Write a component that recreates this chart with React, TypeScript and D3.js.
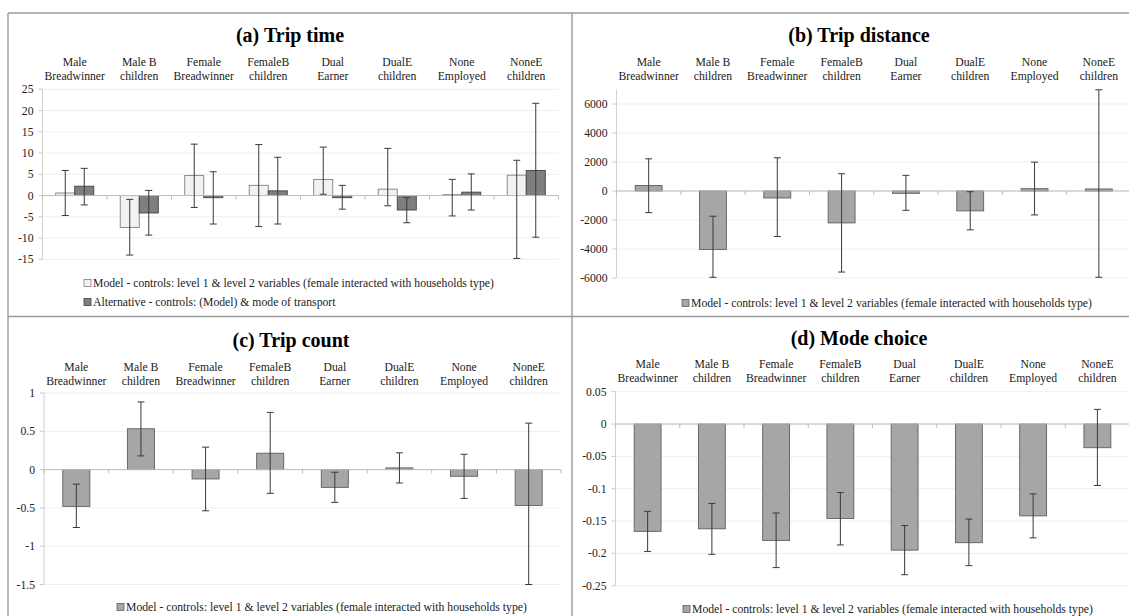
import React from "react";
import * as d3 from "d3";

const categories = [
  ["Male", "Breadwinner"],
  ["Male B", "children"],
  ["Female", "Breadwinner"],
  ["FemaleB", "children"],
  ["Dual", "Earner"],
  ["DualE", "children"],
  ["None", "Employed"],
  ["NoneE", "children"],
];

const legendModel = "Model - controls: level 1 & level 2 variables (female interacted with households type)";
const legendAlt = "Alternative - controls: (Model) & mode of transport";

// (a) Trip time
const timeModel = [0.6, -7.5, 4.7, 2.4, 3.8, 1.5, 0.2, 4.8];
const timeModelHi = [5.9, -0.9, 12.1, 12.0, 11.4, 11.1, 3.8, 8.3];
const timeModelLo = [-4.7, -14.0, -2.8, -7.3, 0.3, -2.4, -4.8, -14.8];
const timeAlt = [2.2, -4.1, -0.5, 1.1, -0.5, -3.4, 0.8, 5.9];
const timeAltHi = [6.4, 1.2, 5.6, 9.0, 2.4, -0.5, 5.1, 21.7];
const timeAltLo = [-2.2, -9.3, -6.7, -6.7, -3.2, -6.4, -3.4, -9.8];
const timeTicks = [25, 20, 15, 10, 5, 0, -5, -10, -15];

// (b) Trip distance
const distModel = [380, -4030, -480, -2200, -160, -1370, 160, 140];
const distModelHi = [2220, -1740, 2290, 1190, 1080, -50, 1990, 6980];
const distModelLo = [-1490, -5950, -3140, -5590, -1330, -2680, -1650, -5950];
const distTicks = [6000, 4000, 2000, 0, -2000, -4000, -6000];

// (c) Trip count
const countModel = [-0.48, 0.533, -0.122, 0.214, -0.232, 0.022, -0.087, -0.468];
const countModelHi = [-0.19, 0.883, 0.293, 0.747, -0.035, 0.219, 0.2, 0.607];
const countModelLo = [-0.756, 0.179, -0.538, -0.31, -0.428, -0.175, -0.376, -1.5];
const countTicks = [1, 0.5, 0, -0.5, -1, -1.5];

// (d) Mode choice
const modeModel = [-0.166, -0.162, -0.18, -0.146, -0.195, -0.1835, -0.142, -0.0366];
const modeModelHi = [-0.135, -0.123, -0.1376, -0.106, -0.157, -0.147, -0.108, 0.0227];
const modeModelLo = [-0.197, -0.2015, -0.222, -0.187, -0.233, -0.219, -0.176, -0.095];
const modeTicks = [0.05, 0, -0.05, -0.1, -0.15, -0.2, -0.25];

const FONT = "'Liberation Serif', 'Times New Roman', Times, serif";
const FS = 11.7;

type Series = { name: string; values: number[]; hi: number[]; lo: number[]; fill: string; stroke: string };

type PanelProps = {
  title: string;
  titleX: number;
  titleY: number;
  x0: number;
  x1: number;
  yTop: number;
  yBot: number;
  domain: [number, number];
  ticks: number[];
  catY: number;
  series: Series[];
  legendX: number;
  legendY: number[];
};

function Panel(p: PanelProps) {
  const x = d3.scaleBand<number>().domain(d3.range(categories.length)).range([p.x0, p.x1]).padding(0);
  const y = d3.scaleLinear().domain(p.domain).range([p.yBot, p.yTop]);
  const bw = x.bandwidth();
  const n = p.series.length;
  const barW = bw / (n + 1.39);
  const groupW = barW * n;
  const y0 = y(0);
  return (
    <g>
      <text x={p.titleX} y={p.titleY + 6.5} textAnchor="middle" fontFamily={FONT} fontWeight="bold" fontSize={20} fill="#000">
        {p.title}
      </text>
      {categories.map((c, i) => (
        <text key={"c" + i} x={(x(i) as number) + bw / 2} textAnchor="middle" fontFamily={FONT} fontSize={FS} fill="#222">
          <tspan x={(x(i) as number) + bw / 2} y={p.catY + 4}>{c[0]}</tspan>
          <tspan x={(x(i) as number) + bw / 2} y={p.catY + 18}>{c[1]}</tspan>
        </text>
      ))}
      {p.ticks.map((t, i) => (
        <g key={"t" + i}>
          <line x1={p.x0} x2={p.x1} y1={y(t)} y2={y(t)} stroke="#eeeeee" strokeWidth={1} />
          <line x1={p.x0 - 4} x2={p.x0} y1={y(t)} y2={y(t)} stroke="#c8c8c8" strokeWidth={1} />
          <text x={p.x0 - 9} y={y(t) + 4} textAnchor="end" fontFamily={FONT} fontSize={FS} fill="#222">
            {String(t)}
          </text>
        </g>
      ))}
      <line x1={p.x0} x2={p.x0} y1={p.yTop} y2={p.yBot} stroke="#d0d0d0" strokeWidth={1} />
      {p.series.map((s, si) =>
        s.values.map((v, i) => {
          const bx = (x(i) as number) + (bw - groupW) / 2 + si * barW;
          const top = Math.min(y(v), y0);
          const h = Math.abs(y(v) - y0);
          return (
            <rect key={"b" + si + "-" + i} x={bx} y={top} width={barW} height={Math.max(h, 0.8)} fill={s.fill} stroke={s.stroke} strokeWidth={0.9} />
          );
        })
      )}
      <line x1={p.x0} x2={p.x1} y1={y0} y2={y0} stroke="#bdbdbd" strokeWidth={1} />
      {d3.range(categories.length + 1).map((i) => {
        const xx = p.x0 + i * bw;
        return <line key={"ct" + i} x1={xx} x2={xx} y1={y0} y2={y0 + 4} stroke="#bdbdbd" strokeWidth={1} />;
      })}
      {p.series.map((s, si) =>
        s.values.map((v, i) => {
          const cx = (x(i) as number) + (bw - groupW) / 2 + si * barW + barW / 2;
          const yh = y(s.hi[i]);
          const yl = y(s.lo[i]);
          return (
            <g key={"e" + si + "-" + i} stroke="#3a3a3a" strokeWidth={1}>
              <line x1={cx} x2={cx} y1={yh} y2={yl} />
              <line x1={cx - 3.5} x2={cx + 3.5} y1={yh} y2={yh} />
              <line x1={cx - 3.5} x2={cx + 3.5} y1={yl} y2={yl} />
            </g>
          );
        })
      )}
      {p.series.map((s, si) => (
        <g key={"l" + si}>
          <rect x={p.legendX} y={p.legendY[si] - 3.5} width={7} height={7} fill={s.fill} stroke={s.stroke} strokeWidth={0.8} />
          <text x={p.legendX + 9} y={p.legendY[si] + 4} fontFamily={FONT} fontSize={FS} fill="#222">
            {s.name}
          </text>
        </g>
      ))}
    </g>
  );
}

export default function App() {
  const single = (values: number[], hi: number[], lo: number[]): Series[] => [
    { name: legendModel, values, hi, lo, fill: "#a6a6a6", stroke: "#5f5f5f" },
  ];
  return (
    <svg width={1129} height={616} style={{ position: "absolute", left: 0, top: 0, display: "block", background: "#fff" }}>
      <rect x={0} y={0} width={1129} height={616} fill="#fff" />
      <Panel
        title="(a) Trip time"
        titleX={290}
        titleY={35}
        x0={42.5}
        x1={558.5}
        yTop={89.3}
        yBot={259.3}
        domain={[-15, 25]}
        ticks={timeTicks}
        catY={62}
        series={[
          { name: legendModel, values: timeModel, hi: timeModelHi, lo: timeModelLo, fill: "#f2f2f2", stroke: "#7f7f7f" },
          { name: legendAlt, values: timeAlt, hi: timeAltHi, lo: timeAltLo, fill: "#7f7f7f", stroke: "#404040" },
        ]}
        legendX={84}
        legendY={[283, 302]}
      />
      <Panel
        title="(b) Trip distance"
        titleX={859}
        titleY={35}
        x0={616.5}
        x1={1131}
        yTop={89.5}
        yBot={278}
        domain={[-6000, 7000]}
        ticks={distTicks}
        catY={62}
        series={single(distModel, distModelHi, distModelLo)}
        legendX={682}
        legendY={[303]}
      />
      <Panel
        title="(c) Trip count"
        titleX={291}
        titleY={340}
        x0={44}
        x1={561}
        yTop={393}
        yBot={584.5}
        domain={[-1.5, 1]}
        ticks={countTicks}
        catY={366.7}
        series={single(countModel, countModelHi, countModelLo)}
        legendX={117}
        legendY={[607]}
      />
      <Panel
        title="(d) Mode choice"
        titleX={859}
        titleY={338}
        x0={615.5}
        x1={1129.5}
        yTop={391.7}
        yBot={585.7}
        domain={[-0.25, 0.05]}
        ticks={modeTicks}
        catY={364.3}
        series={single(modeModel, modeModelHi, modeModelLo)}
        legendX={683}
        legendY={[609]}
      />
      <g fill="none" stroke="#9a9a9a" strokeWidth={1.4}>
        <line x1={8} x2={1129} y1={13} y2={13} />
        <line x1={8} x2={8} y1={13} y2={616} />
        <line x1={572} x2={572} y1={13} y2={616} />
        <line x1={8} x2={1129} y1={316.5} y2={316.5} />
      </g>
    </svg>
  );
}
